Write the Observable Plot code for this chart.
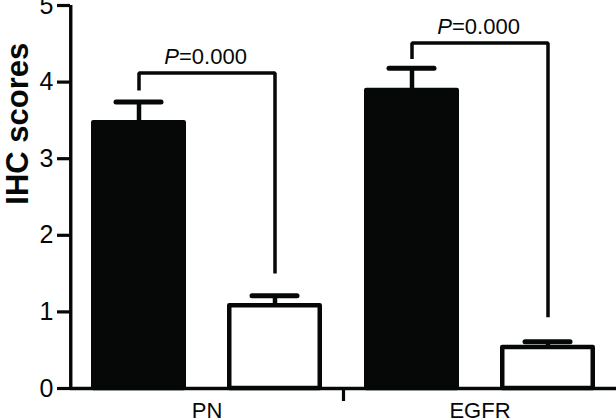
<!DOCTYPE html>
<html>
<head>
<meta charset="utf-8">
<script src="https://cdn.jsdelivr.net/npm/d3@7"></script>
<script src="https://cdn.jsdelivr.net/npm/@observablehq/plot@0.6"></script>
<style>
  html, body { margin: 0; padding: 0; background: #fff; }
  #chart svg { display: block; }
</style>
</head>
<body>
<div id="chart"></div>
<script>
// ---- data ----
const groups = ["PN", "EGFR"];
const seriesNames = ["Series 1", "Series 2"];   // filled bar, open bar
const meanFilled = [3.47, 3.89];
const meanOpen   = [1.08, 0.535];
const errTopFilled = [3.74, 4.18];   // mean + SEM
const errTopOpen   = [1.21, 0.61];
const bracketTop   = [4.12, 4.51];
const bracketLeftEnd  = [3.89, 4.30];
const bracketRightEnd = [1.50, 0.93];
const pValues = ["0.000", "0.000"];
const yTicks = [0, 1, 2, 3, 4, 5];
const yTitle = "IHC scores";
const yTitleAt = 2.4;   // where the rotated title is centred, in axis units

// ---- tables built from the arrays ----
const rows = [];
groups.forEach((g, i) => {
  rows.push({group: g, series: seriesNames[0], mean: meanFilled[i], top: errTopFilled[i]});
  rows.push({group: g, series: seriesNames[1], mean: meanOpen[i], top: errTopOpen[i]});
});
const bracketPts = [];
groups.forEach((g, i) => {
  bracketPts.push({group: g, series: seriesNames[0], y: bracketLeftEnd[i]});
  bracketPts.push({group: g, series: seriesNames[0], y: bracketTop[i]});
  bracketPts.push({group: g, series: seriesNames[1], y: bracketTop[i]});
  bracketPts.push({group: g, series: seriesNames[1], y: bracketRightEnd[i]});
});
const pRows = groups.map((g, i) => ({group: g, y: bracketTop[i], p: pValues[i]}));

// ---- layout ----
const W = 616, H = 418, ML = 70, MR = 0, MT = 5, MB = 30;
const ink = "#060808";
const font = "'Liberation Sans', Arial, Helvetica, sans-serif";
const xPadIn = 0.3, xPadOut = 0.15;
const facetW = (W - ML - MR) / groups.length;
const step = facetW / (seriesNames.length - xPadIn + 2 * xPadOut);
const firstCenter = step * xPadOut + step * (1 - xPadIn) / 2;

const chart = Plot.plot({
  width: W,
  height: H,
  marginLeft: ML,
  marginRight: MR,
  marginTop: MT,
  marginBottom: MB,
  style: {fontFamily: font, background: "#fff", color: ink, overflow: "visible"},
  fx: {domain: groups, paddingInner: 0, paddingOuter: 0, label: null},
  x: {domain: seriesNames, paddingInner: xPadIn, paddingOuter: xPadOut, axis: null},
  y: {domain: [0, 5], axis: null},
  color: {domain: seriesNames, range: [ink, "#ffffff"]},
  marks: [
    Plot.barY(rows, {
      fx: "group", x: "series", y: "mean", fill: "series",
      stroke: ink, strokeWidth: 4.5, strokeLinejoin: "round",
      insetLeft: 2.25, insetRight: 2.25
    }),
    Plot.ruleX(rows, {fx: "group", x: "series", y1: "mean", y2: "top", stroke: ink, strokeWidth: 4.5}),
    Plot.tickY(rows, {fx: "group", x: "series", y: "top", stroke: ink, strokeWidth: 5,
      strokeLinecap: "round", insetLeft: 25, insetRight: 25}),
    Plot.line(bracketPts, {fx: "group", x: "series", y: "y", z: "group", stroke: ink,
      strokeWidth: 3.5, strokeLinejoin: "miter", strokeLinecap: "butt"}),
    Plot.text(pRows, {fx: "group", y: "y", text: () => "P", fontStyle: "italic", fontSize: 22,
      textAnchor: "end", lineAnchor: "bottom", dx: -28, dy: -9, fill: ink}),
    Plot.text(pRows, {fx: "group", y: "y", text: (d) => "=" + d.p, fontSize: 22,
      textAnchor: "start", lineAnchor: "bottom", dx: -28, dy: -9, fill: ink}),
    // x axis baseline
    Plot.ruleY([0], {stroke: ink, strokeWidth: 3.4}),
    // y axis line (left edge of first facet)
    Plot.ruleX([yTicks[0]], {fx: () => groups[0], x: () => seriesNames[0], y1: yTicks[0],
      y2: yTicks[yTicks.length - 1], dx: -firstCenter, stroke: ink, strokeWidth: 3.4}),
    Plot.axisY({ticks: yTicks, tickFormat: "d", tickSize: 13, tickPadding: 4, fontSize: 25,
      strokeWidth: 3.2, stroke: ink, fill: ink, label: null}),
    Plot.text([yTitle], {fx: () => groups[0], y: () => yTitleAt, frameAnchor: "left", rotate: -90, dx: -52,
      text: (d) => d, fontSize: 31, fontWeight: "bold", fill: ink}),
    // category labels
    Plot.axisFx({anchor: "bottom", tickSize: 0, tickPadding: 14, fontSize: 22, fill: ink, label: null}),
    // separator tick between the two groups
    Plot.axisFx({anchor: "bottom", ticks: [groups[0]], tickSize: 13, tickFormat: () => "",
      dx: facetW / 2, stroke: ink, strokeWidth: 3.2, label: null})
  ]
});
document.getElementById("chart").appendChild(chart);
</script>
</body>
</html>
